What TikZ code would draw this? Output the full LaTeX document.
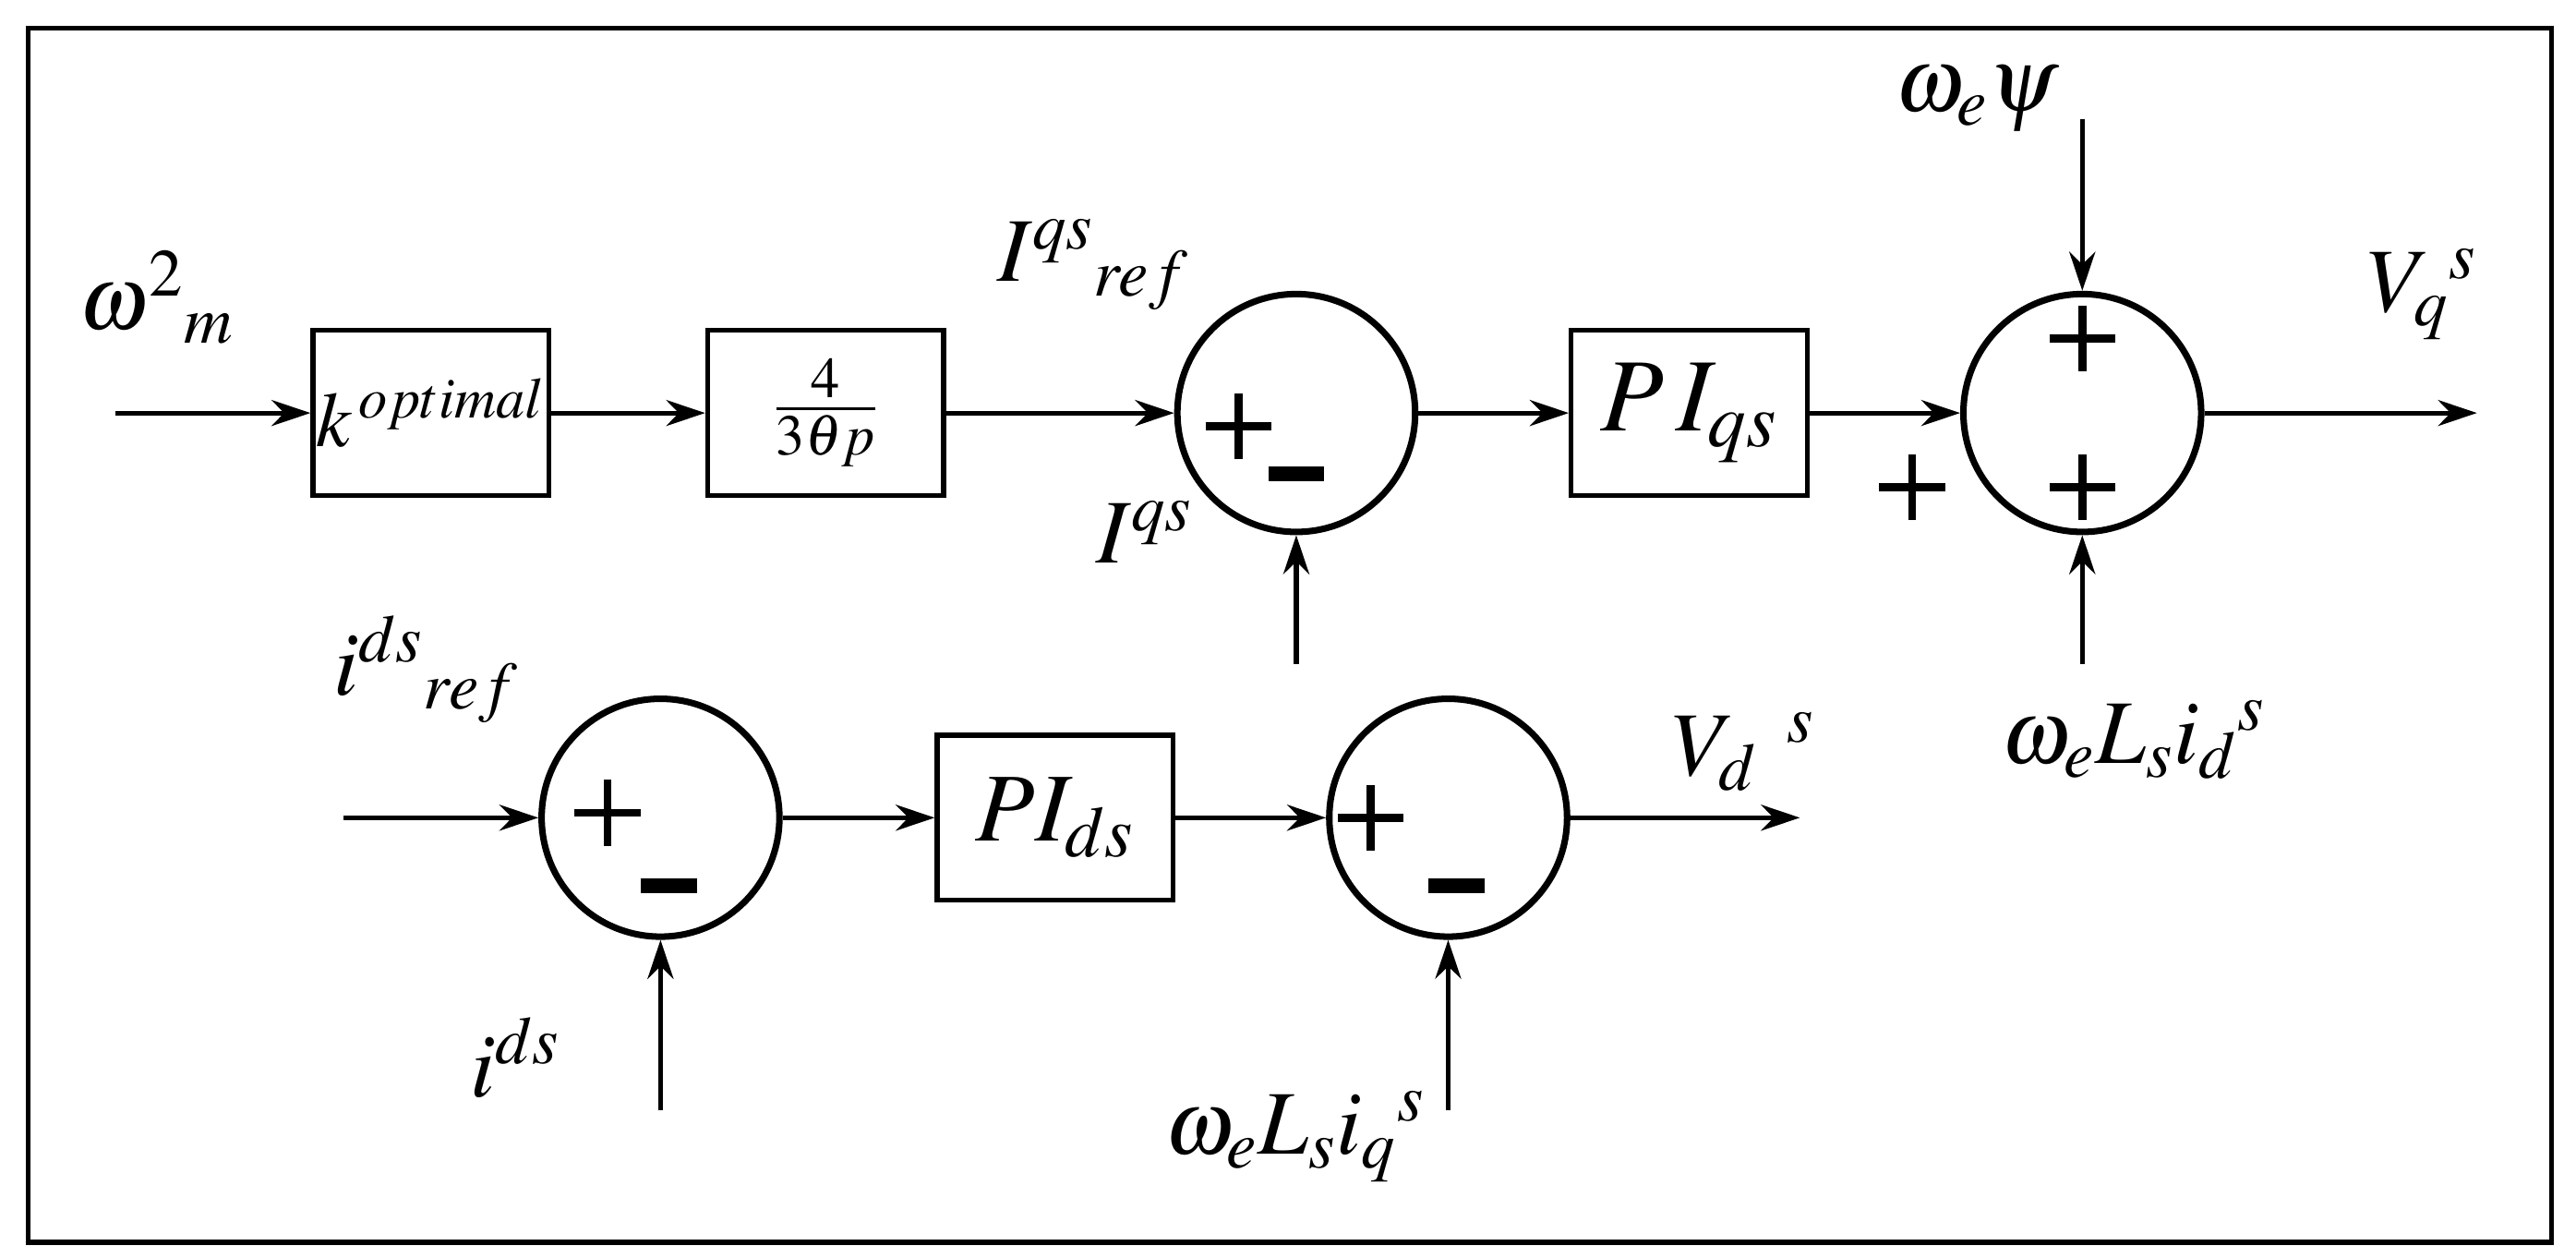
\documentclass[tikz,border=0pt]{standalone}
\usepackage{mathptmx}
\usetikzlibrary{arrows.meta}
\begin{document}
\begin{tikzpicture}[x=0.017885cm,y=-0.017885cm,
  ln/.style={line width=1.5pt},
  ar/.style={ln,-{Stealth[length=12pt,width=8pt]}},
  blk/.style={draw,line width=1.5pt,minimum width=143*0.017885cm,minimum height=100*0.017885cm,inner sep=0pt},
  sum/.style={draw,circle,line width=2pt,minimum size=144*0.017885cm,inner sep=0pt},
  lab/.style={font=\fontsize{28}{30}\selectfont},
  pl/.style={line width=2.4pt},
  mi/.style={line width=3pt}]
\useasboundingbox (0,0) rectangle (1560,761);
\draw[line width=1.5pt] (17,17) rectangle (1545,752);
% boxes
\node[blk,font=\fontsize{24}{26}\selectfont] (k) at (261,250) {$k^{\,optimal}$};
\node[blk,font=\fontsize{24}{26}\selectfont] (g) at (500,250) {$\frac{4}{3\theta p}$};
\node[blk,font=\fontsize{32}{34}\selectfont] (piq) at (1023,250) {$P\,I_{qs}$};
\node[blk,font=\fontsize{30}{32}\selectfont] (pid) at (639,495) {$PI_{ds}$};
% sums
\node[sum] (s1) at (785,250) {};
\node[sum] (s2) at (1261,250) {};
\node[sum] (s3) at (400,495) {};
\node[sum] (s4) at (877,495) {};
% coordinates
\coordinate (in1) at (70,250);
\coordinate (b1) at (785,402);
\coordinate (t2) at (1261,72);
\coordinate (b2) at (1261,402);
\coordinate (o2) at (1500,250);
\coordinate (in3) at (208,495);
\coordinate (b3) at (400,672);
\coordinate (b4) at (877,672);
\coordinate (o4) at (1090,495);
% arrows
\draw[ar] (in1) -- (k);
\draw[ar] (k) -- (g);
\draw[ar] (g) -- (s1);
\draw[ar] (b1) -- (s1);
\draw[ar] (s1) -- (piq);
\draw[ar] (piq) -- (s2);
\draw[ar] (t2) -- (s2);
\draw[ar] (b2) -- (s2);
\draw[ar] (s2) -- (o2);
\draw[ar] (in3) -- (s3);
\draw[ar] (b3) -- (s3);
\draw[ar] (s3) -- (pid);
\draw[ar] (pid) -- (s4);
\draw[ar] (b4) -- (s4);
\draw[ar] (s4) -- (o4);
% signs
\foreach \x/\y in {750/258,1261/205,1261/295,1158/295,368/492,830/495}
  {\draw[pl] (\x-20,\y) -- (\x+20,\y); \draw[pl] (\x,\y-20) -- (\x,\y+20);}
\foreach \x/\y in {785/287,405/536,882/536}
  {\draw[line width=4.5pt] (\x-17,\y) -- (\x+17,\y);}
% labels
\node[lab] at (95,180) {$\omega^{2}{}_{m}$};
\node[lab] at (662,160) {$I^{qs}{}_{ref}$};
\node[lab] at (693,322) {$I^{qs}$};
\node[lab] at (1197,60) {$\omega_{e}\psi$};
\node[lab] at (1292,448) {$\omega_{e}L_{s}i_{d}{}^{s}$};
\node[lab] at (1467,178) {$V_{q}{}^{s}$};
\node[lab] at (258,405) {$i^{ds}{}_{ref}$};
\node[lab] at (312,640) {$i^{ds}$};
\node[lab] at (784,688) {$\omega_{e}L_{s}i_{q}{}^{s}$};
\node[lab] at (1056,455) {$V_{d}{}^{\;\;s}$};
\end{tikzpicture}
\end{document}
